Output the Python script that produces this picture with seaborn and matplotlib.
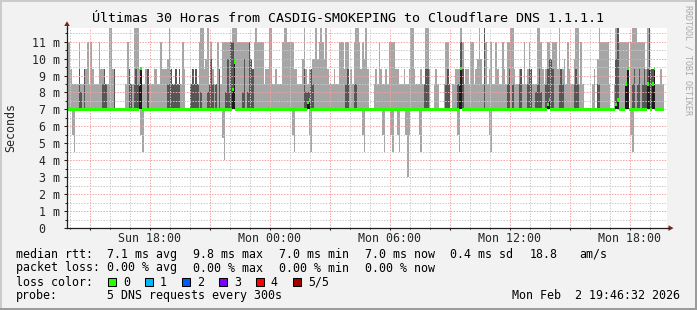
import numpy as np
import pandas as pd
import matplotlib
matplotlib.use("Agg")
import matplotlib.pyplot as plt
import seaborn as sns
from matplotlib.patches import Rectangle, Polygon
from matplotlib.lines import Line2D
from matplotlib.ticker import FixedLocator

nan = float("nan")

# ------------------------------------------------------------------ data
START_HOUR = 13.85          # hours after Sun 00:00 at the left edge
STEP_MINUTES = 5
WINDOW_HOURS = 30
PING2_MS = 7.0              # second-lowest ping (ms) of each 5-ping round

# highest ping of each round (ms)
PING_MAX_MS = [
    11, 11, 9.4, 8.5, 8.5, 8.5, 8.5, 11, 8.5, 8.5,
    9.4, 9.4, 11, 8.5, 11, 9.4, 8.5, 8.5, 8.5, 11,
    9.4, 9.4, 9.4, 8.5, 8.5, 11.9, 11.9, 9.4, 9.4, 7,
    7, 7, 7, 7, 7, 8.5, 11, 9.4, 8.5, 8.5,
    11.9, 11.9, 11.9, 9.4, 9.4, 8.5, 8.5, 9.4, 9.4, 8.5,
    8.5, 8.5, 9.4, 9.4, 8.5, 8.5, 11, 9.4, 9.4, 9.4,
    10, 11.9, 9.4, 8.5, 8.5, 9.4, 8.5, 9.4, 8.5, 11,
    9.4, 7, 7, 7, 8.5, 9.4, 8.5, 9.4, 8.5, 11,
    11.9, 11.9, 9.4, 10, 11.9, 8.5, 11, 9.4, 8.5, 8.5,
    11, 9.4, 8.5, 11, 11, 11, 11, 11, 11, 11.9,
    11.9, 11.9, 11, 11, 11, 11, 11, 11, 11, 11,
    10, 9.4, 11, 11.9, 11, 11, 11, 11, 8.5, 9.4,
    9.4, 11.9, 11.9, 8.5, 8.5, 9.4, 8.5, 8.5, 8.5, 11,
    11.9, 11.9, 11, 11, 11, 11, 9.4, 9.4, 8.5, 8.5,
    8.5, 10, 11.9, 9.4, 8.5, 9.4, 9.4, 10, 10, 11.9,
    10, 11, 11.9, 11, 10, 11.9, 9.4, 8.5, 8.5, 8.5,
    9.4, 8.5, 8.5, 11, 11, 11, 9.4, 11, 11, 8.5,
    9.4, 8.5, 11, 11.9, 11.9, 11, 9.4, 11, 10, 11.9,
    9.4, 7, 7, 7, 8.5, 9.4, 8.5, 11, 9.4, 8.5,
    8.5, 9.4, 8.5, 11, 11, 11, 11, 9.4, 9.4, 8.5,
    8.5, 8.5, 9.4, 8.5, 8.5, 9.4, 11.9, 11.9, 9.4, 8.5,
    8.5, 8.5, 9.4, 8.5, 8.5, 11.9, 11.9, 9.4, 7, 7,
    8.5, 9.4, 8.5, 7, 7, 7, 8.5, 11, 11, 8.5,
    7, 8.5, 8.5, 9.4, 9.4, 9.4, 11.9, 11, 8.5, 9.4,
    9.4, 8.5, 11, 11, 8.5, 9.4, 10, 11.9, 10, 8.5,
    11.9, 11, 8.5, 9.4, 11, 8.5, 8.5, 11, 9.4, 8.5,
    8.5, 11, 9.4, 8.5, 11, 11, 11.9, 11.9, 9.4, 8.5,
    8.5, 9.4, 9.4, 8.5, 11, 8.5, 9.4, 11, 9.4, 8.5,
    8.5, 8.5, 11.9, 11.9, 11, 9.4, 8.5, 9.4, 11, 11,
    10, 11, 11, 11, 9.4, 11.9, 9.4, 9.4, 10, 8.5,
    11, 9.4, 8.5, 8.5, 10, 11.9, 11.9, 8.5, 11, 8.5,
    7, 7, 7, 7, 7, 8.5, 9.4, 7, 10, 11.9,
    11, 11, 11, 11, 11, 8.5, 7, 7, 8.5, 11.9,
    11.9, 11, 11, 11, 11, 11, 11, 7, 11, 11.9,
    11.9, 11.9, 11, 11, 11, 11, 11, 9.4, 11.9, 11.9,
    9.4, 9.4, 9.4, 8.5, 8.5, 8.5, 9.4, 8.5, nan, nan,
]

# fourth ping of each round (ms) - top of the dark smoke
PING4_MS = [
    7, 7, 7, 7, 7, 7, 7, 9.4, 8.0, 7,
    9.4, 7, 7, 7, 7, 7, 7, 7, 7, 7,
    7, 8.5, 9.4, 8.5, 7, 7, 7, 7, 9.4, 7,
    7, 7, 7, 7, 7, 7, 7, 9.4, 8.5, 7,
    8.5, 9.4, 8.5, 8.5, 9.4, 7, 7, 7, 9.4, 7,
    7, 7, 7, 7, 7, 7, 7, 7, 7, 7,
    8.5, 8.5, 9.4, 8.5, 8.5, 9.4, 8.5, 9.4, 7, 7,
    7, 7, 7, 7, 8.5, 9.4, 8.5, 9.4, 8.5, 7,
    8.0, 7, 7, 7, 8.0, 8.5, 10, 8.5, 7, 8.5,
    7, 9.4, 7, 7, 7, 8.0, 10, 8.0, 11, 11,
    10, 7, 7, 7, 7, 8.0, 10, 7, 8.0, 11,
    10, 9.4, 7, 7, 7, 7, 7, 7, 7, 7,
    7, 7, 7, 7, 7, 7, 7, 7, 7, 7,
    7, 7, 7, 7, 7, 7, 7, 7, 7, 7,
    7, 7, 9.4, 8.0, 8.0, 8.0, 9.4, 8.5, 7, 7,
    7, 7, 7, 7, 7, 7, 7, 7, 7, 7,
    7, 7, 7, 7, 7, 7, 7, 8.5, 9.4, 7,
    7, 7, 8.5, 8.5, 7, 7, 7, 7, 7, 7,
    7, 7, 7, 7, 7, 7, 7, 7, 7, 7,
    7, 7, 7, 7, 7, 7, 7, 7, 7, 7,
    7, 7, 7, 7, 7, 7, 7, 7, 7, 7,
    7, 7, 7, 7, 8.5, 9.4, 9.4, 7, 7, 7,
    7, 7, 7, 7, 7, 7, 7, 8.5, 9.4, 8.5,
    7, 7, 7, 7, 8.5, 8.5, 11, 9.4, 7, 7,
    7, 7, 7, 7, 7, 7, 7, 7, 7, 7,
    11.9, 7, 7, 7, 7, 7, 7, 7, 7, 7,
    7, 7, 7, 7, 8.5, 9.4, 7, 8.5, 7, 7,
    7, 8.5, 9.4, 7, 7, 7, 8.5, 9.4, 9.4, 7,
    7, 8.0, 8.5, 9.4, 8.0, 7, 7, 8.5, 9.4, 10,
    10, 9.4, 7, 7, 7, 8.5, 9.4, 8.5, 7, 7,
    7, 7, 7, 7, 8.5, 9.4, 8.5, 7, 7, 7,
    7, 7, 7, 7, 7, 7, 7, 7, 8.5, 8.5,
    7, 7, 7, 7, 7, 7, 7, 7, 7, 10,
    11.9, 7, 7, 7, 7, 8.5, 9.4, 7, 7, 8.5,
    9.4, 7, 8.5, 9.4, 7, 8.5, 9.4, 8.5, 9.4, 11.9,
    9.4, 9.4, 9.4, 7, 7, 7, 7, 7, nan, nan,
]

# lowest ping of each round (ms)
PING_MIN_MS = [
    7, 7, 7, 5.5, 4.5, 7, 7, 7, 7, 7,
    7, 7, 7, 7, 7, 7, 7, 7, 7, 7,
    7, 7, 7, 7, 7, 7, 7, 7, 7, 7,
    7, 7, 7, 7, 7, 7, 7, 7, 7, 7,
    7, 7, 7, 7, 5.5, 4.5, 7, 7, 7, 7,
    7, 7, 7, 7, 7, 7, 7, 7, 7, 7,
    7, 7, 7, 7, 7, 7, 7, 7, 7, 7,
    7, 7, 7, 7, 7, 7, 7, 7, 7, 7,
    7, 7, 7, 7, 7, 7, 7, 7, 7, 7,
    7, 7, 7, 5.3, 4.0, 7, 7, 7, 7, 7,
    7, 7, 7, 7, 7, 7, 7, 7, 7, 7,
    7, 7, 7, 7, 7, 7, 7, 7, 7, 7,
    7, 7, 7, 7, 7, 7, 7, 7, 7, 7,
    7, 7, 7, 7, 7, 5.5, 4.5, 7, 7, 7,
    7, 7, 7, 7, 7, 5.5, 4.5, 7, 7, 7,
    7, 7, 7, 7, 7, 7, 7, 7, 7, 7,
    7, 7, 7, 7, 7, 7, 7, 7, 7, 7,
    7, 7, 7, 7, 7, 7, 7, 5.5, 4.5, 7,
    7, 7, 7, 7, 7, 7, 7, 7, 7, 5.5,
    4.5, 7, 7, 7, 5.5, 4.5, 7, 7, 5.5, 4.5,
    7, 7, 7, 5.5, 3.0, 5.5, 7, 7, 7, 7,
    7, 5.5, 4.5, 7, 7, 7, 7, 7, 7, 7,
    7, 7, 7, 7, 7, 7, 7, 7, 7, 7,
    7, 7, 7, 7, 5.5, 4.5, 7, 7, 7, 7,
    7, 7, 7, 7, 7, 7, 7, 7, 7, 7,
    7, 7, 7, 5.5, 4.5, 7, 7, 7, 7, 7,
    7, 7, 7, 7, 7, 7, 7, 7, 7, 7,
    7, 7, 7, 7, 7, 7, 7, 7, 7, 7,
    7, 7, 7, 7, 7, 7, 7, 7, 7, 7,
    7, 7, 7, 7, 7, 7, 7, 7, 7, 7,
    7, 7, 7, 7, 7, 7, 7, 7, 7, 7,
    7, 7, 7, 7, 7, 7, 7, 7, 7, 7,
    7, 7, 7, 7, 7, 7, 7, 7, 7, 7,
    7, 7, 7, 7, 7, 7, 7, 7, 5.5, 4.5,
    7, 7, 7, 7, 7, 7, 7, 7, 7, 7,
    7, 7, 7, 7, 7, 7, 7, 7, nan, nan,
]

# median rtt of each round (ms)
MEDIAN_MS = [
    7, 7, 7, 7, 7, 7, 7, 7, 7, 7,
    7, 7, 7, 7, 7, 7, 7, 7, 7, 7,
    7, 7, 7, 7, 7, 7, 7, 7, 7, 7,
    7, 7, 7, 7, 7, 7, 7, 7, 7, 7,
    7, 7, 7, 8.5, 9.4, 7, 7, 7, 7, 7,
    7, 7, 7, 7, 7, 7, 7, 7, 7, 7,
    7, 7, 7, 7, 7, 7, 7, 7, 7, 7,
    7, 7, 7, 7, 7, 7, 7, 7, 7, 7,
    7, 7, 7, 7, 7, 7, 7, 7, 7, 7,
    7, 7, 7, 7, 7, 7, 7, 7, 7, 8.2,
    9.8, 7, 7, 7, 7, 7, 7, 7, 7, 7,
    7, 7, 7, 7, 7, 7, 7, 7, 7, 7,
    7, 7, 7, 7, 7, 7, 7, 7, 7, 7,
    7, 7, 7, 7, 7, 7, 7, 7, 7, 7,
    7, 7, 7, 7, 7.4, 7.6, 7, 7, 7, 7,
    7, 7, 7, 7, 7, 7, 7, 7, 7, 7,
    7, 7, 7, 7, 7, 7, 7, 7, 7, 7,
    7, 7, 7, 7, 7, 7, 7, 7, 7, 7,
    7, 7, 7, 7, 7, 7, 7, 7, 7, 7,
    7, 7, 7, 7, 7, 7, 7, 7, 7, 7,
    7, 7, 7, 7, 7, 7, 7, 7, 7, 7,
    7, 7, 7, 7, 7, 7, 7, 7, 7, 7,
    7, 7, 7, 7, 7, 7, 7, 7, 7, 7,
    7, 7, 7, 7, 7, 8.5, 9.4, 7, 7, 7,
    7, 7, 7, 7, 7, 7, 7, 7, 7, 7,
    7, 7, 7, 7, 7, 7, 7, 7, 7, 7,
    7, 7, 7, 7, 7, 7, 7, 7, 7, 7,
    7, 7, 7, 7, 7, 7, 7, 7, 7, 7,
    7, 7, 7, 7, 7, 7, 7, 7, 7.3, 7.6,
    7, 7, 7, 7, 7, 7, 7, 7, 7, 7,
    7, 7, 7, 7, 7, 7, 7, 7, 7, 7,
    7, 7, 7, 7, 7, 7, 7, 7, 7, 7,
    7, 7, 7, 7, 7, 7, 7, 7, 7, 7.3,
    7.6, 7, 7, 7, 7, 8.5, 9.4, 7, 7, 7,
    7, 7, 7, 7, 7, 7, 7, 7, 8.5, 9.4,
    7, 8.5, 9.4, 7, 7, 7, 7, 7, nan, nan,
]

TITLE = "Últimas 30 Horas from CASDIG-SMOKEPING to Cloudflare DNS 1.1.1.1"
Y_LABEL = "Seconds"
Y_TICKS_MS = [0, 1, 2, 3, 4, 5, 6, 7, 8, 9, 10, 11]
Y_TICK_LABELS = ["0  ", "1 m", "2 m", "3 m", "4 m", "5 m", "6 m", "7 m",
                 "8 m", "9 m", "10 m", "11 m"]
X_TICK_HOURS = [18, 24, 30, 36, 42]
X_TICK_LABELS = ["Sun 18:00", "Mon 00:00", "Mon 06:00", "Mon 12:00", "Mon 18:00"]

RTT_ROW = ["median rtt:", "7.1 ms avg", "9.8 ms max", "7.0 ms min",
           "7.0 ms now", "0.4 ms sd", "18.8", "am/s"]
LOSS_ROW = ["packet loss:", "0.00 % avg", "0.00 % max", "0.00 % min", "0.00 % now"]
LOSS_COLOR_TITLE = "loss color:"
LOSS_LABELS = ["0", "1", "2", "3", "4", "5/5"]
LOSS_COLORS = ["#26ff00", "#00b8ff", "#0059ff", "#7e00ff", "#ff0000", "#a10000"]
PROBE_ROW = ["probe:", "5 DNS requests every 300s"]
STAMP = "Mon Feb  2 19:46:32 2026"
WATERMARK = "RRDTOOL / TOBI OETIKER"

# ------------------------------------------------------------------ style
W, H = 697, 310
BACK = "#f2f2f2"
SHADEA = "#cbcbcb"
SHADEB = "#9b9b9b"
LIGHT = "#a6a6a6"
DARK = "#565656"
EVENT = "#1c1c1c"
AXIS = "#1f1f1f"
ARROW = "#801f1f"
MGRID = "#f3a2a2"
GRID = "#c9c9c9"
FS = 8.4

sns.set_theme(style="white", rc={"axes.linewidth": 0.75})
plt.rcParams["font.family"] = ["DejaVu Sans Mono", "DejaVu Sans"]
plt.rcParams["text.color"] = "black"
plt.rcParams["lines.scale_dashes"] = False


def fx(px):
    return px / W


def fy(py):
    return 1 - py / H


fig = plt.figure(figsize=(W / 100, H / 100), dpi=100)
fig.patch.set_facecolor(BACK)
ax = fig.add_axes([fx(67), fy(228), 600 / W, 200 / H])
ax.set_facecolor("white")

# ------------------------------------------------------------------ data frame
top = np.array(PING_MAX_MS, float)
p4 = np.array(PING4_MS, float)
low = np.array(PING_MIN_MS, float)
med = np.array(MEDIAN_MS, float)
n = len(top)
hours = START_HOUR + (np.arange(n) + 0.5) * STEP_MINUTES / 60.0
valid = ~np.isnan(top)
df = pd.DataFrame({"hour": hours, "top": top, "p4": p4, "low": low,
                   "median": med})[valid].reset_index(drop=True)
df["smoke_h"] = df["top"] - df["low"]
df["dark_h"] = df["p4"] - PING2_MS
df["event"] = df["median"] > PING2_MS + 0.05
df["ev_h"] = df["median"] - PING2_MS
df["med_h"] = 0.18
df["med_b"] = df["median"] - 0.09

common = dict(native_scale=True, orient="x", width=1.0, saturation=1,
              errorbar=None, linewidth=0, antialiased=False, ax=ax)

sns.barplot(data=df, x="hour", y="smoke_h", bottom=df["low"].to_numpy(),
            color=LIGHT, zorder=1, **common)
sns.barplot(data=df, x="hour", y="dark_h",
            bottom=np.full(len(df), PING2_MS), color=DARK, zorder=1.2, **common)
d_ev = df[df["event"]].reset_index(drop=True)
sns.barplot(data=d_ev, x="hour", y="ev_h",
            bottom=np.full(len(d_ev), PING2_MS), color=EVENT, zorder=1.4, **common)
sns.barplot(data=df, x="hour", y="med_h", bottom=df["med_b"].to_numpy(),
            color=LOSS_COLORS[0], zorder=3, **common)

# ------------------------------------------------------------------ axes
x0, x1 = START_HOUR, START_HOUR + WINDOW_HOURS
ax.set_xlim(x0, x1)
ax.set_ylim(0, 200 / 16.94)

major_x = [h for h in range(int(np.ceil(x0)), int(x1) + 1) if h % 3 == 0]
minor_x = [h for h in range(int(np.ceil(x0)), int(x1) + 1) if h % 3 != 0]
ax.xaxis.set_major_locator(FixedLocator(major_x))
ax.xaxis.set_minor_locator(FixedLocator(minor_x))
ax.set_xticklabels([X_TICK_LABELS[X_TICK_HOURS.index(h)] if h in X_TICK_HOURS else ""
                    for h in major_x])
ax.yaxis.set_major_locator(FixedLocator(Y_TICKS_MS))
ax.yaxis.set_minor_locator(FixedLocator([v + 0.5 for v in Y_TICKS_MS]))
ax.set_yticklabels(Y_TICK_LABELS)

ax.set_axisbelow(False)
ax.grid(True, which="major", color=MGRID, linestyle=(0, (1.0, 1.0)), linewidth=0.72)
ax.grid(True, which="minor", color=GRID, linestyle=(0, (1.0, 1.0)), linewidth=0.72)

ax.tick_params(axis="y", which="major", direction="out", length=2.2, width=0.75,
               color=AXIS, labelsize=FS, pad=2.9, left=True)
ax.tick_params(axis="y", which="minor", direction="out", length=1.2, width=0.75,
               color=AXIS, left=True)
ax.tick_params(axis="x", which="major", direction="out", length=1.6, width=0.75,
               color=AXIS, labelsize=FS, pad=1.2, bottom=True)
ax.tick_params(axis="x", which="minor", direction="out", length=1.0, width=0.75,
               color=AXIS, bottom=True)

for s in ("top", "right"):
    ax.spines[s].set_visible(False)
for s in ("left", "bottom"):
    ax.spines[s].set_color(AXIS)
    ax.spines[s].set_linewidth(0.9)
    ax.spines[s].set_zorder(4)

ax.set_xlabel("")
ax.set_ylabel(Y_LABEL, fontsize=FS)
ax.yaxis.label.set_verticalalignment("center")
ax.yaxis.set_label_coords((10.5 - 67) / 600, 0.5)

# axis extensions and arrow heads
fig.add_artist(Line2D([fx(67), fx(67)], [fy(28.5), fy(25.5)], color=AXIS, lw=0.9,
                      transform=fig.transFigure))
fig.add_artist(Line2D([fx(666.5), fx(669)], [fy(228), fy(228)], color=AXIS, lw=0.9,
                      transform=fig.transFigure))
fig.add_artist(Polygon([[fx(64.2), fy(26)], [fx(69.8), fy(26)], [fx(67), fy(21.3)]],
                       closed=True, color=ARROW, lw=0, transform=fig.transFigure))
fig.add_artist(Polygon([[fx(668.5), fy(225.3)], [fx(668.5), fy(230.9)], [fx(673.5), fy(228.1)]],
                       closed=True, color=ARROW, lw=0, transform=fig.transFigure))

# ------------------------------------------------------------------ texts
fig.text(fx(347.5), fy(19), TITLE, ha="center", va="center", fontsize=9.6)
fig.text(fx(688), fy(60), WATERMARK, ha="center", va="center", rotation=270,
         fontsize=6.0, color="#a9a9a9")

col_x = [15.5, 106.8, 192.8, 278.8, 365.2, 450.5, 529.8, 578.8]
row_y = [254.3, 268.0, 282.0, 295.7]
for txt, cx in zip(RTT_ROW, col_x):
    fig.text(fx(cx), fy(row_y[0]), txt, ha="left", va="center", fontsize=FS)
for txt, cx in zip(LOSS_ROW, col_x):
    fig.text(fx(cx), fy(row_y[1]), txt, ha="left", va="center", fontsize=FS)
fig.text(fx(col_x[0]), fy(row_y[2]), LOSS_COLOR_TITLE, ha="left", va="center", fontsize=FS)
sw_x = [108.3, 145.3, 182.3, 219.3, 256.3, 293.3]
for lab, c, sx in zip(LOSS_LABELS, LOSS_COLORS, sw_x):
    fig.add_artist(Rectangle((fx(sx), fy(285.7)), 7.3 / W, 7.3 / H, facecolor=c,
                             edgecolor="black", lw=0.75, transform=fig.transFigure))
    fig.text(fx(sx + 14.5), fy(row_y[2]), lab, ha="left", va="center", fontsize=FS)
for txt, cx in zip(PROBE_ROW, col_x):
    fig.text(fx(cx), fy(row_y[3]), txt, ha="left", va="center", fontsize=FS)
fig.text(fx(680.5), fy(row_y[3]), STAMP, ha="right", va="center", fontsize=FS)

# ------------------------------------------------------------------ frame
fig.add_artist(Rectangle((0, 1 - 2 / H), 1, 2 / H, color=SHADEA, lw=0,
                         transform=fig.transFigure))
fig.add_artist(Rectangle((0, 0), 2 / W, 1, color=SHADEA, lw=0, transform=fig.transFigure))
fig.add_artist(Rectangle((0, 0), 1, 2 / H, color=SHADEB, lw=0, transform=fig.transFigure))
fig.add_artist(Rectangle((1 - 2 / W, 0), 2 / W, 1, color=SHADEB, lw=0,
                         transform=fig.transFigure))

fig.savefig("out.png", dpi=100, facecolor=fig.get_facecolor())
